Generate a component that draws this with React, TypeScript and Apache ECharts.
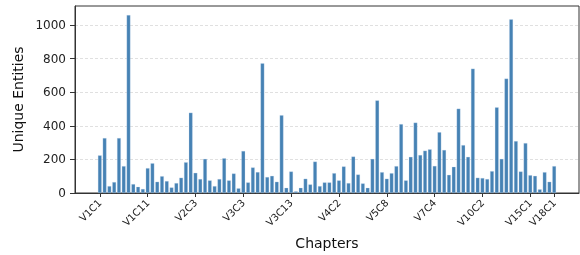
import React, { useEffect, useRef } from "react";
import * as echarts from "echarts";

const values: number[] = [
  224, 327, 41, 65, 327, 160, 1059, 53, 37, 24,
  148, 177, 67, 100, 71, 33, 59, 91, 183, 478,
  120, 83, 203, 75, 41, 83, 207, 75, 116, 28,
  250, 63, 152, 124, 772, 95, 102, 67, 463, 31,
  128, 10, 31, 85, 51, 187, 41, 63, 63, 118,
  75, 158, 59, 217, 110, 57, 31, 203, 551, 124,
  85, 118, 160, 410, 75, 215, 419, 226, 252, 260,
  161, 362, 256, 108, 156, 502, 285, 215, 740, 91,
  89, 83, 130, 510, 203, 681, 1034, 309, 128, 297,
  106, 102, 22, 124, 67, 160,
];

const tickIndices: number[] = [0, 10, 20, 30, 40, 50, 60, 70, 80, 90, 95];
const tickLabels: string[] = [
  "V1C1", "V1C11", "V2C3", "V3C3", "V3C13", "V4C2",
  "V5C8", "V7C4", "V10C2", "V15C1", "V18C1",
];
const yTicks: number[] = [0, 200, 400, 600, 800, 1000];

const FONT = "DejaVu Sans";

export default function App() {
  const ref = useRef<HTMLDivElement>(null);
  useEffect(() => {
    if (!ref.current) return;
    const chart = echarts.init(ref.current, undefined, { renderer: "svg" });
    const n = values.length;
    const pad = 0.4 + 0.05 * (n - 1 + 0.8);
    chart.setOption({
      animation: false,
      grid: {
        left: 75,
        right: 1,
        top: 6,
        bottom: 61,
        show: true,
        borderColor: "#333",
        borderWidth: 1,
      },
      xAxis: {
        type: "value",
        min: -pad,
        max: n - 1 + pad,
        name: "Chapters",
        nameLocation: "middle",
        nameGap: 43,
        nameTextStyle: { fontFamily: FONT, fontSize: 14, color: "#111" },
        axisLine: { show: true, onZero: false, lineStyle: { color: "#333", width: 1 } },
        axisTick: {
          show: true,
          customValues: tickIndices,
          length: 4,
          lineStyle: { color: "#333" },
        },
        axisLabel: {
          customValues: tickIndices,
          rotate: 45,
          margin: 8,
          fontFamily: FONT,
          fontSize: 10,
          color: "#222",
          formatter: (v: number) => {
            const k = tickIndices.indexOf(Math.round(v));
            return k >= 0 ? tickLabels[k] : "";
          },
        },
        splitLine: { show: false },
      },
      yAxis: {
        type: "value",
        min: 0,
        max: 1113,
        interval: 200,
        name: "Unique Entities",
        nameLocation: "middle",
        nameGap: 39,
        nameTextStyle: { fontFamily: FONT, fontSize: 14, color: "#111" },
        axisLine: { show: true, onZero: false, lineStyle: { color: "#333", width: 1 } },
        axisTick: {
          show: true,
          customValues: yTicks,
          length: 5,
          lineStyle: { color: "#333" },
        },
        axisLabel: {
          customValues: yTicks,
          margin: 9,
          fontFamily: FONT,
          fontSize: 12,
          color: "#222",
          formatter: (v: number) => String(v),
        },
        splitLine: {
          show: true,
          lineStyle: { color: "#d8d8d8", type: [3, 2], width: 0.8 },
        },
      },
      series: [
        {
          type: "bar",
          data: values.map((v, i) => [i, v]),
          barWidth: 3.8,
          itemStyle: {
            color: "#4682b4",
            borderColor: "rgba(200,220,240,0.7)",
            borderWidth: 0.4,
          },
        },
      ],
    });
    return () => chart.dispose();
  }, []);
  return (
    <div
      ref={ref}
      style={{ position: "fixed", left: 0, top: 0, width: 580, height: 255 }}
    />
  );
}
